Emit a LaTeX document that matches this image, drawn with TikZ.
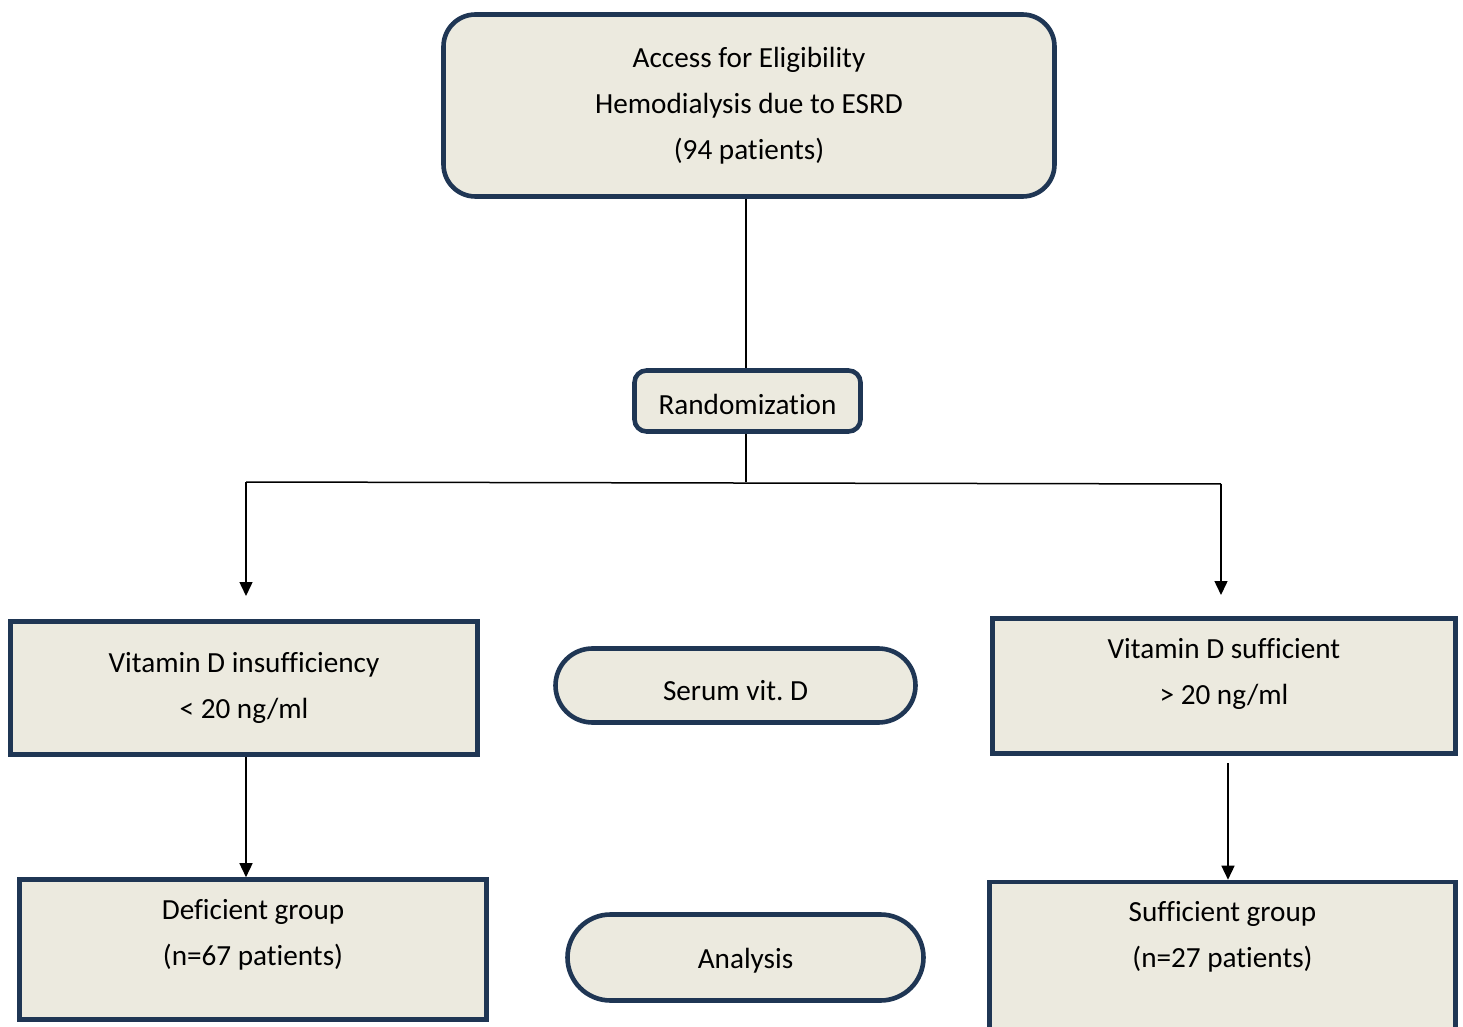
\documentclass[tikz,border=0pt]{standalone}
\usepackage{fontspec}
\setmainfont[Ligatures=NoCommon]{Carlito}
\usetikzlibrary{arrows.meta}
\definecolor{bordc}{RGB}{31,54,84}
\definecolor{fillc}{RGB}{236,234,223}
\newcommand{\dnshift}[2]{\raisebox{-#1}[\height][\depth]{#2}}
\tikzset{
  box/.style={draw=bordc, fill=fillc, line width=2.3pt, inner sep=0pt, align=center,
    font=\fontsize{14.6}{23}\selectfont},
  txt/.style={inner sep=0pt, align=center, font=\fontsize{14.6}{23}\selectfont},
  conn/.style={line width=0.75pt, black},
  arr/.style={conn, -{Triangle[width=6.5pt,length=7pt]}}
}
\begin{document}
\begin{tikzpicture}[x=0.5pt, y=-0.5pt]
\useasboundingbox (0,0) rectangle (1463,1027);
% nodes
\node[box, rounded corners=16pt, minimum width=305.5pt, minimum height=91pt] (top) at (749,105.5)
  {Access for Eligibility\\Hemodialysis due to ESRD\\(94 patients)};
\node[box, rounded corners=6pt, minimum width=113pt, minimum height=30.5pt] (rand) at (747.5,401)
  {\dnshift{1.5pt}{Randomization}};
\node[box, minimum width=233.5pt, minimum height=66.5pt] (insuf) at (244,688)
  {Vitamin D insufficiency\\< 20 ng/ml};
\node[box, minimum width=231.5pt, minimum height=67.5pt] (suffbox) at (1224,686) {};
\node[txt] (sufftxt) at (1224,674) {Vitamin D sufficient\\> 20 ng/ml};
\node[box, rounded corners=18.5pt, minimum width=180pt, minimum height=37pt] (serum) at (735.5,685.5)
  {\dnshift{2.5pt}{Serum vit.\ D}};
\node[box, minimum width=233.5pt, minimum height=70pt] (def) at (253,949.5) {};
\node[txt] (deftxt) at (253,935) {Deficient group\\(n=67 patients)};
\node[box, minimum width=233pt, minimum height=80pt] (sgrp) at (1222.5,962) {};
\node[txt] (sgrptxt) at (1222.5,937) {Sufficient group\\(n=27 patients)};
\node[box, rounded corners=21.5pt, minimum width=178pt, minimum height=43pt] (ana) at (745.5,957.5)
  {\dnshift{1.5pt}{Analysis}};
% coordinates
\coordinate (jL) at (246,482);
\coordinate (jR) at (1221,484);
\coordinate (aL) at (246,596);
\coordinate (aR) at (1221,595);
\coordinate (rs) at (1228,763);
\coordinate (vx) at (746,0);
% connectors
\draw[conn] (vx |- top.south) -- (vx |- rand.north);
\draw[conn] (vx |- rand.south) -- (vx |- jL);
\draw[conn] (jL) -- (jR);
\draw[arr] (jL) -- (aL);
\draw[arr] (jR) -- (aR);
\draw[arr] (insuf.south -| jL) -- (jL |- def.north);
\draw[arr] (rs) -- (rs |- sgrp.north);
\end{tikzpicture}
\end{document}
